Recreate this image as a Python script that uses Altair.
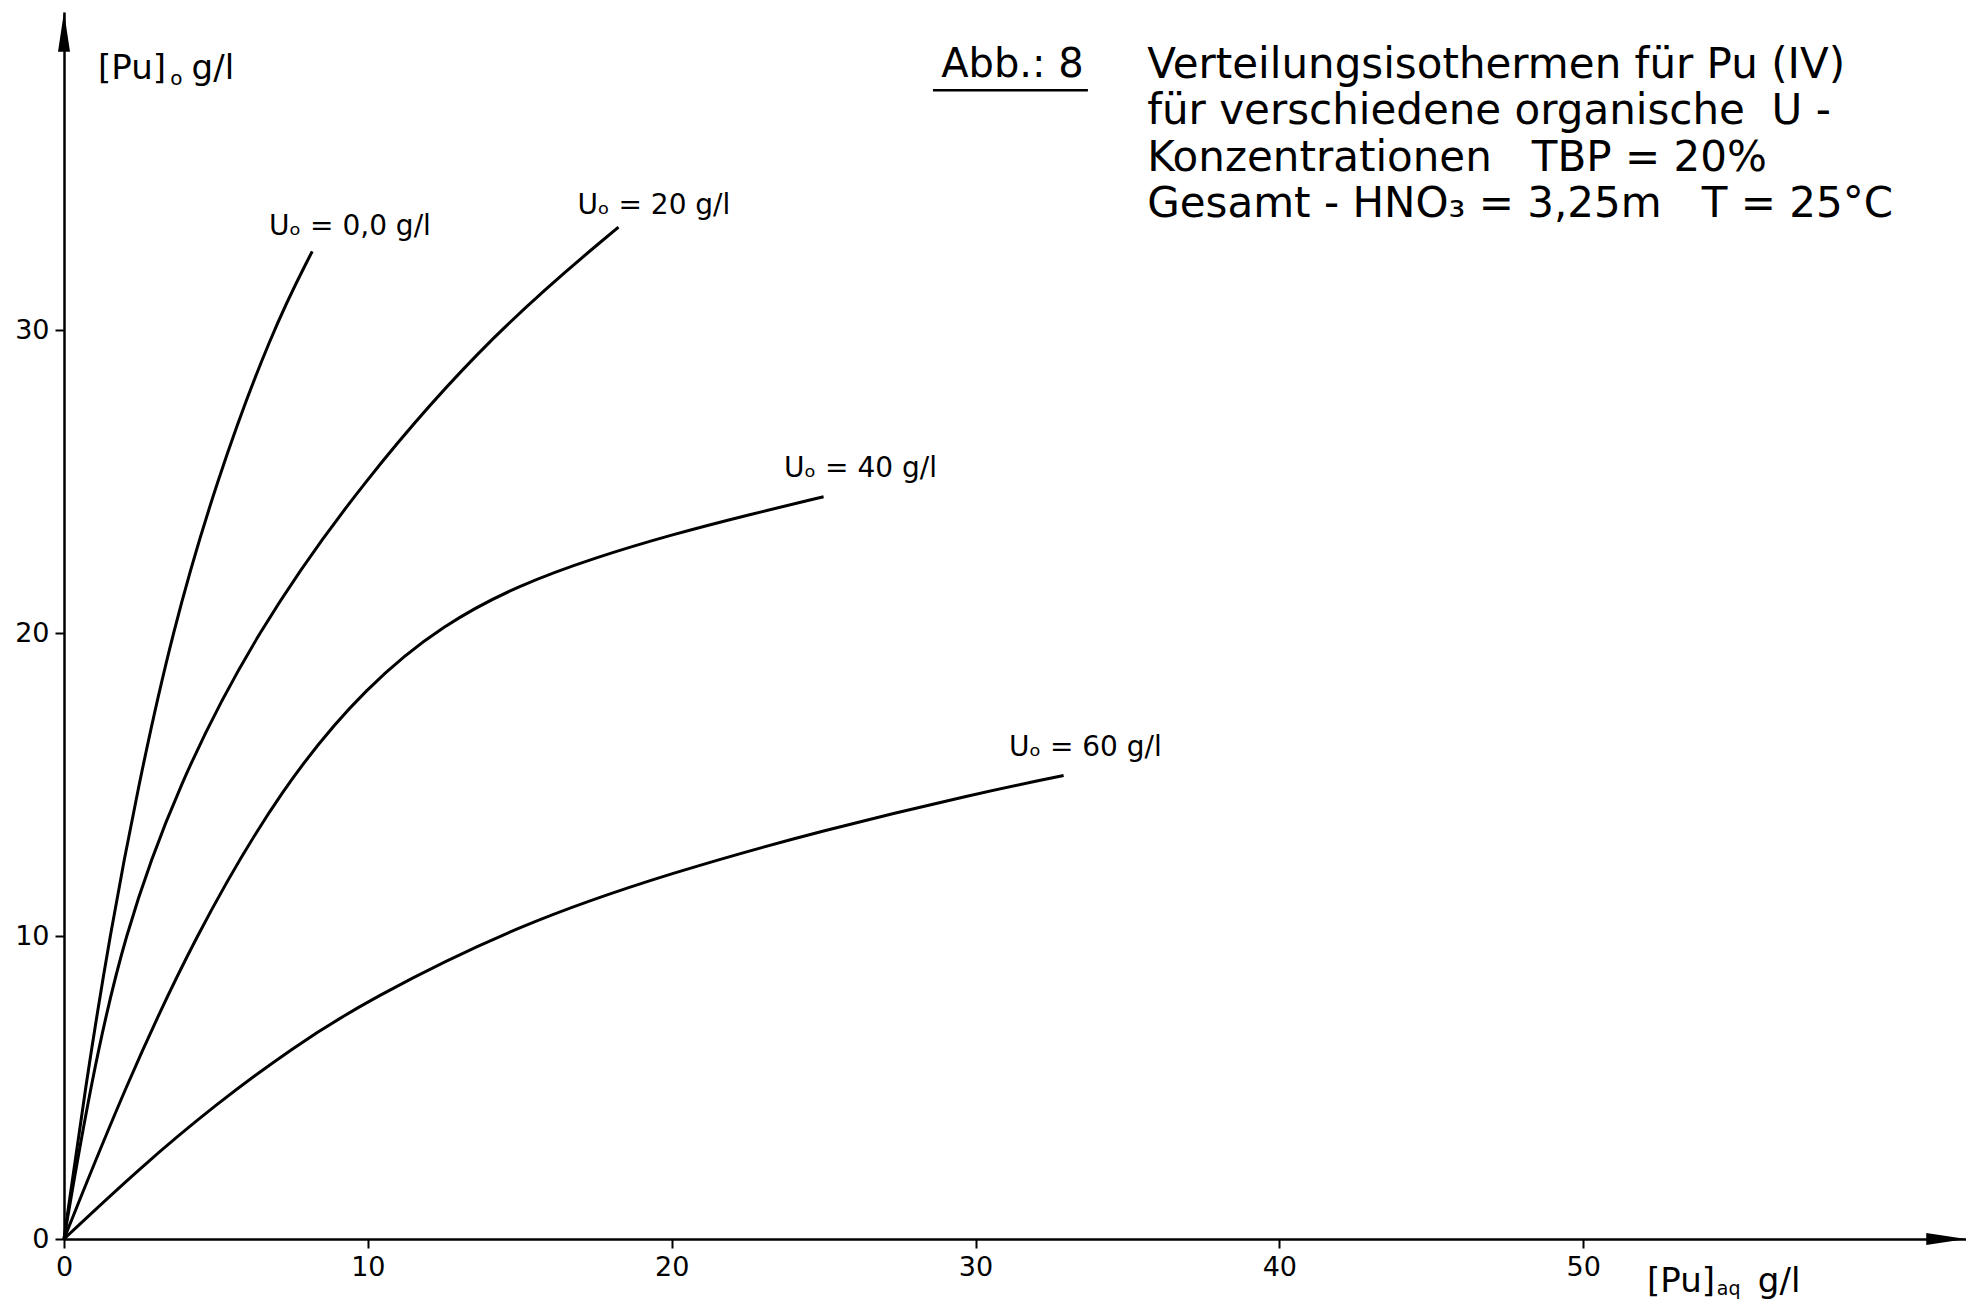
import altair as alt
import pandas as pd

# ---- data ----
series_names = ["Uo = 0,0 g/l", "Uo = 20 g/l", "Uo = 40 g/l", "Uo = 60 g/l"]
x_u0 = [0, 0.7, 1.5, 2.45, 3.55, 5.0, 6.85, 8.17]
y_u0 = [0, 5, 10, 15, 20, 25, 30, 32.6]
x_u20 = [0, 0.85, 1.95, 3.75, 6.3, 9.8, 14.2, 18.25]
y_u20 = [0, 5, 10, 15, 20, 25, 30, 33.4]
x_u40 = [0, 2.0, 4.3, 7.2, 10, 12.5, 15, 17.5, 20, 22.5, 25]
y_u40 = [0, 5, 10, 15, 18.3, 20.3, 21.6, 22.5, 23.25, 23.9, 24.5]
x_u60 = [0, 2.5, 5, 7.5, 10, 15, 20, 25, 30, 32.9]
y_u60 = [0, 2.35, 4.45, 6.3, 7.9, 10.4, 12.1, 13.5, 14.7, 15.3]

x_ticks = [0, 10, 20, 30, 40, 50]
y_ticks = [0, 10, 20, 30]
x_max = 62.6
y_max = 40.5

curve_labels = ["U\u2092 = 0,0 g/l", "U\u2092 = 20 g/l", "U\u2092 = 40 g/l", "U\u2092 = 60 g/l"]
curve_label_x = [6.75, 16.9, 23.7, 31.1]
curve_label_y = [33.4, 34.1, 25.4, 16.2]

NB = "\u00a0"
title_lines = [
    "Verteilungsisothermen f\u00fcr Pu (IV)",
    "f\u00fcr verschiedene organische" + NB * 2 + "U -",
    "Konzentrationen" + NB * 3 + "TBP = 20%",
    "Gesamt - HNO\u2083 = 3,25m" + NB * 3 + "T = 25\u00b0C",
]
title_x = [35.65, 35.65, 35.65, 35.65]
title_y = [38.74, 37.23, 35.68, 34.16]
fig_label = ["Abb.: 8"]
fig_label_x = [28.87]
fig_label_y = [38.74]
underline_x = [28.6]
underline_x2 = [33.7]
underline_y = [37.92]

# axis name pieces: main text, subscript, unit
ylab_text = ["[Pu]", "o", "g/l"]
ylab_x = [1.12, 3.5, 4.2]
ylab_y = [38.61, 38.3, 38.61]
xlab_text = ["[Pu]", "aq", "g/l"]
xlab_x = [52.1, 54.4, 55.75]
xlab_y = [-1.42, -1.65, -1.42]

arrow_x = [0, 61.95]
arrow_y = [39.85, 0]

# ---- tables ----
rows = []
for name, xs_, ys_ in zip(series_names, [x_u0, x_u20, x_u40, x_u60], [y_u0, y_u20, y_u40, y_u60]):
    for a, b in zip(xs_, ys_):
        rows.append({"series": name, "x": a, "y": b})
curves = pd.DataFrame(rows)
clabels = pd.DataFrame({"text": curve_labels, "x": curve_label_x, "y": curve_label_y})
tlines = pd.DataFrame({"text": title_lines, "x": title_x, "y": title_y})
flabel = pd.DataFrame({"text": fig_label, "x": fig_label_x, "y": fig_label_y})
uline = pd.DataFrame({"x": underline_x, "x2": underline_x2, "y": underline_y})
ylab = pd.DataFrame({"text": ylab_text, "x": ylab_x, "y": ylab_y})
xlab = pd.DataFrame({"text": xlab_text, "x": xlab_x, "y": xlab_y})
arrow_up = pd.DataFrame({"x": arrow_x[:1], "y": arrow_y[:1]})
arrow_right = pd.DataFrame({"x": arrow_x[1:], "y": arrow_y[1:]})

FONT = "DejaVu Sans"
xs = alt.Scale(domain=[0, x_max], nice=False, zero=False)
ys = alt.Scale(domain=[0, y_max], nice=False, zero=False)
axis_common = dict(
    title=None, grid=False, domainColor="black", domainWidth=2.5,
    tickColor="black", tickWidth=2, tickSize=9, labelFont=FONT,
    labelFontSize=27, labelColor="black", labelPadding=6,
)
xaxis = alt.Axis(values=x_ticks, labelFlush=False, **axis_common)
yaxis = alt.Axis(values=y_ticks, **axis_common)


def X(field="x"):
    return alt.X(f"{field}:Q", scale=xs, axis=xaxis)


def Y(field="y"):
    return alt.Y(f"{field}:Q", scale=ys, axis=yaxis)


lines = alt.Chart(curves).mark_line(
    color="black", strokeWidth=3, interpolate="basis"
).encode(x=X(), y=Y(), detail="series:N", order="x:Q")


def text_layer(df, size, **kw):
    return alt.Chart(df).mark_text(
        font=FONT, fontSize=size, color="black", align="left", baseline="middle", **kw
    ).encode(x=X(), y=Y(), text="text:N")


curve_text = text_layer(clabels, 28)
title_text = text_layer(tlines, 42)
fig_text = text_layer(flabel, 40)
uline_mark = alt.Chart(uline).mark_rule(color="black", strokeWidth=2.5).encode(
    x=X(), x2="x2:Q", y=Y()
)
ylab_main = text_layer(ylab[ylab.text != "o"], 34)
ylab_sub = text_layer(ylab[ylab.text == "o"], 20)
xlab_main = text_layer(xlab[xlab.text != "aq"], 34)
xlab_sub = text_layer(xlab[xlab.text == "aq"], 19)

up = alt.Chart(arrow_up).mark_point(
    shape="M0,-1L0.3,1L-0.3,1Z", filled=True, color="black", opacity=1, size=1600
).encode(x=X(), y=Y())
right = alt.Chart(arrow_right).mark_point(
    shape="M1,0L-1,0.3L-1,-0.3Z", filled=True, color="black", opacity=1, size=1600
).encode(x=X(), y=Y())

chart = alt.layer(
    lines, curve_text, title_text, fig_text, uline_mark,
    ylab_main, ylab_sub, xlab_main, xlab_sub, up, right
).properties(
    width=1902, height=1227,
    autosize=alt.AutoSizeParams(type="none"),
    padding={"left": 56, "top": 4, "right": 0, "bottom": 66},
    background="white",
).configure_view(stroke=None)

chart.save("out.html", embed_options={"renderer": "svg", "actions": False})
